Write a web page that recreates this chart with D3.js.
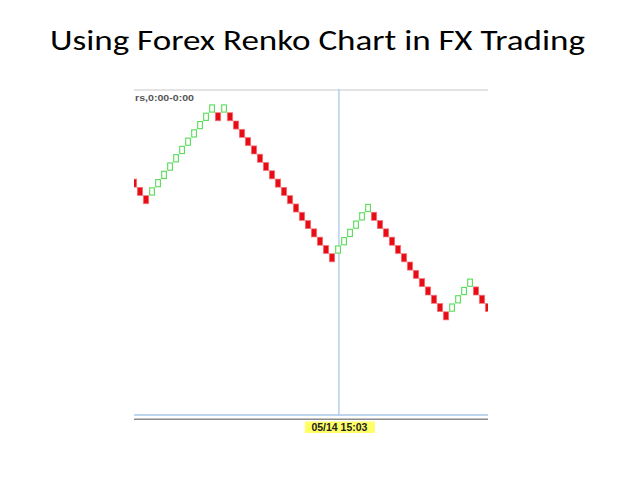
<!DOCTYPE html>
<html>
<head>
<meta charset="utf-8">
<script src="https://cdn.jsdelivr.net/npm/d3@7/dist/d3.min.js"></script>
<style>
  html, body { margin: 0; padding: 0; background: #fff; }
  svg { display: block; }
</style>
</head>
<body>
<svg id="chart" width="638" height="479"></svg>
<script>
// ---- Data ----
const titleText = "Using Forex Renko Chart in FX Trading";
const headerLabel = "rs,0:00-0:00";
const cursorTimeLabel = "05/14 15:03";
const cursorBrick = 34;
// brick level (lower edge, in brick units) per column
const brickLevels = [
  21, 20, 19,
  20, 21, 22, 23, 24, 25, 26, 27, 28, 29, 30,
  29, 30,
  29, 28, 27, 26, 25, 24, 23, 22, 21, 20, 19, 18, 17, 16, 15, 14, 13, 12,
  13, 14, 15, 16, 17, 18,
  17, 16, 15, 14, 13, 12, 11, 10, 9, 8, 7, 6, 5,
  6, 7, 8, 9,
  8, 7, 6
];
// brick direction per column: "up" or "down"
const brickDirs = [
  "down", "down", "down",
  "up", "up", "up", "up", "up", "up", "up", "up", "up", "up", "up",
  "down", "up",
  "down", "down", "down", "down", "down", "down", "down", "down", "down",
  "down", "down", "down", "down", "down", "down", "down", "down", "down",
  "up", "up", "up", "up", "up", "up",
  "down", "down", "down", "down", "down", "down", "down", "down", "down",
  "down", "down", "down", "down",
  "up", "up", "up", "up",
  "down", "down", "down"
];

const bricks = brickLevels.map((lv, i) => ({ i, level: lv, dir: brickDirs[i] }));

// ---- Layout ----
const svg = d3.select("#chart");
const plot = { left: 134, right: 488, top: 90, bottom: 415 };

const x = d3.scaleLinear().domain([0, brickLevels.length]).range([131, 131 + 6 * brickLevels.length]);
const y = d3.scaleLinear().domain([6, 31]).range([311.7, 104.3]);
const step = x(1) - x(0);

// Title
svg.append("text")
  .attr("x", 317.5).attr("y", 49.5)
  .attr("text-anchor", "middle")
  .attr("font-family", "Calibri, Carlito, 'Open Sans', Lato, sans-serif")
  .attr("font-size", 28)
  .attr("textLength", 535)
  .attr("lengthAdjust", "spacingAndGlyphs")
  .attr("fill", "#000")
  .text(titleText);

// top border line
svg.append("line")
  .attr("x1", plot.left).attr("x2", plot.right)
  .attr("y1", plot.top).attr("y2", plot.top)
  .attr("stroke", "#c8c8c8").attr("stroke-width", 1);

// clip
svg.append("clipPath").attr("id", "plotclip")
  .append("rect")
  .attr("x", plot.left).attr("y", plot.top)
  .attr("width", plot.right - plot.left).attr("height", plot.bottom - plot.top);

// crosshair vertical
const cx = x(cursorBrick) + step * 0.65;
svg.append("line")
  .attr("x1", cx).attr("x2", cx)
  .attr("y1", plot.top - 1).attr("y2", plot.bottom + 1)
  .attr("stroke", "#a9c9e8").attr("stroke-width", 1.3);

// bricks
const g = svg.append("g").attr("clip-path", "url(#plotclip)");
const bh = y(0) - y(1);

g.selectAll("rect.down")
  .data(bricks.filter(d => d.dir === "down"))
  .join("rect")
  .attr("class", "down")
  .attr("x", d => x(d.i) + 0.3)
  .attr("y", d => y(d.level + 1) + 0.1)
  .attr("width", step - 0.6)
  .attr("height", bh - 0.2)
  .attr("fill", "#e80c14")
  .attr("stroke", "#f27a80")
  .attr("stroke-width", 0.7);

g.selectAll("rect.up")
  .data(bricks.filter(d => d.dir === "up"))
  .join("rect")
  .attr("class", "up")
  .attr("x", d => x(d.i) + 0.7)
  .attr("y", d => y(d.level + 1) + 0.6)
  .attr("width", step - 1.3)
  .attr("height", bh - 1.1)
  .attr("fill", "#fff")
  .attr("stroke", "#55dd55")
  .attr("stroke-width", 1.1);

// header text
svg.append("text")
  .attr("x", plot.left + 1).attr("y", 100.5)
  .attr("font-family", "'Liberation Sans', Arial, sans-serif")
  .attr("font-weight", "bold")
  .attr("font-size", 9.5)
  .attr("textLength", 59)
  .attr("lengthAdjust", "spacingAndGlyphs")
  .attr("fill", "#555")
  .text(headerLabel);

// bottom lines
svg.append("line")
  .attr("x1", plot.left).attr("x2", plot.right)
  .attr("y1", plot.bottom).attr("y2", plot.bottom)
  .attr("stroke", "#a9c9e8").attr("stroke-width", 1.3);
svg.append("line")
  .attr("x1", plot.left).attr("x2", plot.right)
  .attr("y1", 419.3).attr("y2", 419.3)
  .attr("stroke", "#8a8a8a").attr("stroke-width", 1.6);

// time label
svg.append("rect")
  .attr("x", cx - 34).attr("y", 421.5)
  .attr("width", 70).attr("height", 11.5)
  .attr("fill", "#ffff66");
svg.append("text")
  .attr("x", cx + 0.5).attr("y", 431)
  .attr("text-anchor", "middle")
  .attr("font-family", "'Liberation Sans', Arial, sans-serif")
  .attr("font-weight", "bold")
  .attr("font-size", 10)
  .attr("textLength", 56)
  .attr("lengthAdjust", "spacingAndGlyphs")
  .attr("fill", "#222")
  .text(cursorTimeLabel);
</script>
</body>
</html>
